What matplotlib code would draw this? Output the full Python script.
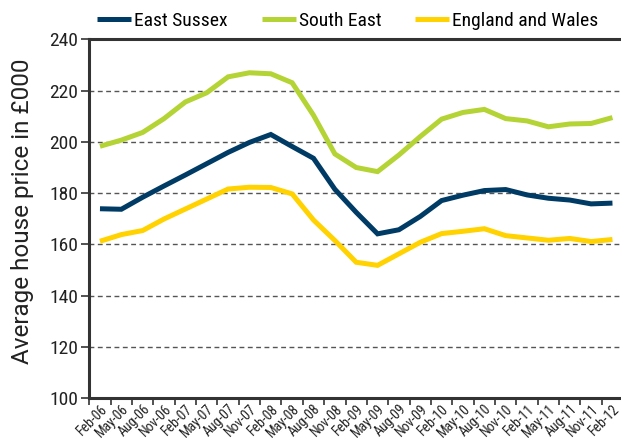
import os
import matplotlib
matplotlib.use("Agg")
import matplotlib.pyplot as plt
import matplotlib.transforms as mtransforms
from matplotlib import font_manager as fm
import numpy as np


def pick_condensed():
    prefs = ['Liberation Sans Narrow', 'Roboto Condensed', 'Open Sans Condensed',
             'Fira Sans Condensed', 'Noto Sans', 'Open Sans', 'DejaVu Sans', 'Roboto']
    bad = ['bold', 'italic', 'light', 'thin', 'medium', 'semi', 'black', 'extra',
           'oblique', 'mono', 'serif', 'cjk', 'display', 'ultra', 'heavy']
    found = []
    for f in fm.fontManager.ttflist:
        b = os.path.basename(f.fname).lower()
        if ('condensed' in b or 'narrow' in b) and not any(k in b for k in bad):
            if f.style != 'normal':
                continue
            rank = prefs.index(f.name) if f.name in prefs else len(prefs)
            found.append((rank, f.name, f.stretch))
    if not found:
        return None
    found.sort(key=lambda t: t[0])
    return found[0]


choice = pick_condensed()
if choice is not None:
    plt.rcParams['font.family'] = [choice[1], 'DejaVu Sans']
    plt.rcParams['font.stretch'] = choice[2]
else:
    plt.rcParams['font.family'] = ['DejaVu Sans']

quarters = ["Feb-06", "May-06", "Aug-06", "Nov-06", "Feb-07", "May-07", "Aug-07", "Nov-07",
            "Feb-08", "May-08", "Aug-08", "Nov-08", "Feb-09", "May-09", "Aug-09", "Nov-09",
            "Feb-10", "May-10", "Aug-10", "Nov-10", "Feb-11", "May-11", "Aug-11", "Nov-11",
            "Feb-12"]

east_sussex = [173.9, 173.7, 178.4, 182.8, 187.1, 191.5, 195.9, 199.8, 202.9, 198.2,
               193.6, 181.5, 172.5, 164.1, 165.7, 170.9, 177.1, 179.2, 181.0, 181.4,
               179.3, 178.0, 177.3, 175.8, 176.1]
south_east = [198.3, 200.7, 203.7, 209.1, 215.6, 219.2, 225.4, 227.0, 226.6, 223.1,
              210.4, 195.3, 190.0, 188.4, 194.9, 202.1, 208.9, 211.5, 212.7, 209.1,
              208.2, 205.9, 207.0, 207.2, 209.5]
england_wales = [161.2, 163.8, 165.4, 169.9, 173.8, 177.7, 181.6, 182.3, 182.2, 179.7,
                 169.5, 161.5, 153.0, 151.8, 156.3, 160.8, 164.2, 165.1, 166.1, 163.4,
                 162.5, 161.6, 162.3, 161.1, 161.9]

series = [("East Sussex", east_sussex, "#003b65"),
          ("South East", south_east, "#b4d335"),
          ("England and Wales", england_wales, "#ffd200")]

yticks = [100, 120, 140, 160, 180, 200, 220, 240]

fig = plt.figure(figsize=(6.21, 4.41), dpi=100)
ax = fig.add_axes([0.1438, 0.0975, 0.8562, 0.813])

x = np.arange(len(quarters))
for name, vals, col in series:
    ax.plot(x, vals, color=col, lw=3.6, label=name, solid_capstyle='butt',
            solid_joinstyle='miter')

ax.set_xlim(-0.5, 24.4)
ax.set_ylim(100, 240)
ax.set_yticks(yticks)
ax.set_yticklabels([str(v) for v in yticks], fontsize=14, color='#222222')

for v in yticks[1:-1]:
    ax.axhline(v, color='#555555', lw=1.0, ls=(0, (3.5, 2.5)), zorder=0)

ax.set_xticks(x)
ax.set_xticklabels(quarters, rotation=45, ha='right', va='top',
                   rotation_mode='anchor', fontsize=10, color='#222222')
offset = mtransforms.ScaledTranslation(6 / 100, 0, fig.dpi_scale_trans)
for lab in ax.get_xticklabels():
    lab.set_transform(lab.get_transform() + offset)
ax.tick_params(axis='x', which='major', length=0, pad=3)
ax.set_xticks(np.arange(-0.5, 24.5, 1.0), minor=True)
ax.tick_params(axis='x', which='minor', length=5, width=1.2, color='#333333', direction='out')
ax.tick_params(axis='y', length=6, width=1.2, color='#333333', direction='out', pad=2)

for s in ['left', 'bottom', 'top']:
    ax.spines[s].set_linewidth(2.2)
    ax.spines[s].set_color('#333333')
ax.spines['right'].set_visible(False)

ax.set_ylabel("Average house price in £000", fontsize=17.5, color='#222222',
              family=['Roboto', 'DejaVu Sans'], stretch='normal')
ax.yaxis.set_label_coords(-0.104, 0.522)

fig.legend(loc='center', bbox_to_anchor=(0.56, 0.9535), ncol=3, frameon=False,
           fontsize=14, handlelength=1.75, handletextpad=0.15, columnspacing=1.75,
           borderaxespad=0)

fig.savefig("out.png", dpi=100)
